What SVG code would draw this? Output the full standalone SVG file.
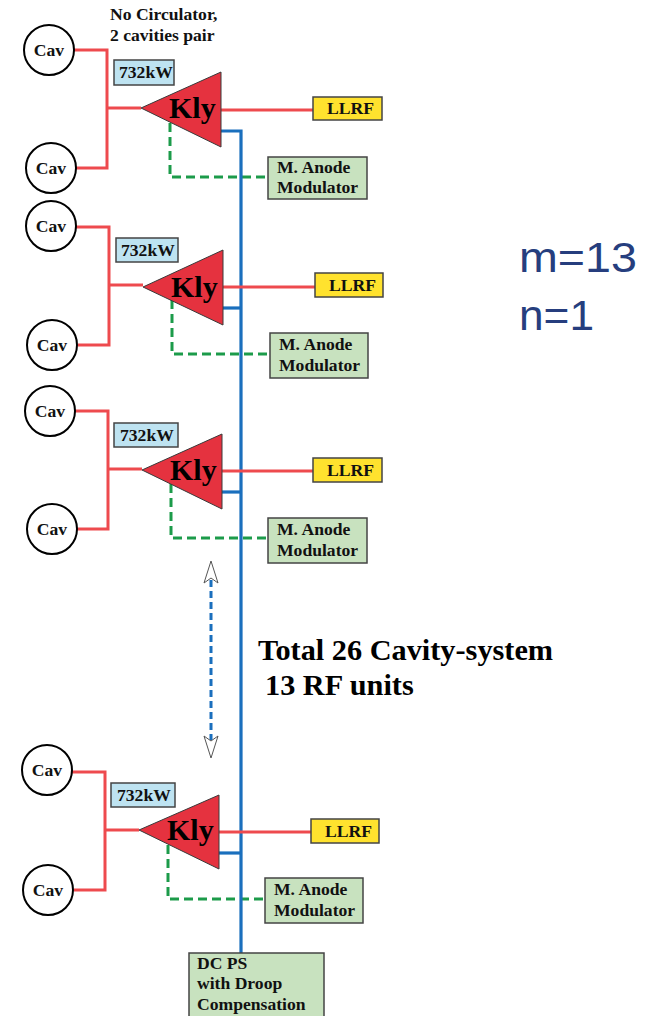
<svg xmlns="http://www.w3.org/2000/svg" width="648" height="1016" viewBox="0 0 648 1016">
<style>
.t{font-family:"Liberation Serif","Times New Roman",serif;font-weight:bold;fill:#111;font-size:17.6px}
.kt{font-family:"Liberation Serif","Times New Roman",serif;font-weight:bold;fill:#000;font-size:30px}
.cc{fill:#fff;stroke:#000;stroke-width:2}
.kly{fill:#E5323F;stroke:#3a3a3a;stroke-width:1}
.pw{fill:#BEE3F1;stroke:#444;stroke-width:1.5}
.ll{fill:#FFE22E;stroke:#444;stroke-width:1.5}
.gb{fill:#C8E2BF;stroke:#444;stroke-width:1.5}
.red{fill:none;stroke:#EE4A4E;stroke-width:3}
.blue{fill:none;stroke:#1A6FBD;stroke-width:3.2}
.grn{fill:none;stroke:#1C9B4A;stroke-width:3;stroke-dasharray:9,5}
.big{font-family:"Liberation Serif","Times New Roman",serif;font-weight:bold;fill:#000;font-size:30.3px}
.mn{font-family:"Liberation Sans",Arial,sans-serif;fill:#263E7E;font-size:42px}
</style>
<defs>
<g id="unitConn">
<path class="grn" d="M170,123 V177 H268"/>
</g>
<g id="unitRed">
<path class="red" d="M74,50 H107 V168 H76"/>
<path class="red" d="M107,108 H141"/>
<path class="red" d="M218,110 H313"/>
</g>
</defs>

<g id="connectors">
<use href="#unitConn"/>
<use href="#unitConn" transform="translate(2,177)"/>
<use href="#unitConn" transform="translate(1,361)"/>
<use href="#unitConn" transform="translate(-2,722)"/>
<path class="blue" d="M221,131 H241 V953"/>
<path class="blue" d="M223,308 H241"/>
<path class="blue" d="M222,492 H241"/>
<path class="blue" d="M219,853 H241"/>
<use href="#unitRed"/>
<use href="#unitRed" transform="translate(2,177)"/>
<use href="#unitRed" transform="translate(1,361)"/>
<use href="#unitRed" transform="translate(-2,722)"/>
<g id="ellipsis-arrow">
<path d="M211,580 V740" fill="none" stroke="#1A6FBD" stroke-width="3" stroke-dasharray="7,4"/>
<polygon points="211,561 204,583 211,578 218,583" fill="#fff" stroke="#555" stroke-width="1"/>
<polygon points="211,758 204,736 211,741 218,736" fill="#fff" stroke="#555" stroke-width="1"/>
</g>
</g>

<g id="title">
<text class="t" x="110" y="20">No Circulator,</text>
<text class="t" x="110" y="41">2 cavities pair</text>
</g>

<!-- Unit 1 -->
<g id="unit1">
<g id="cav1a"><circle class="cc" cx="49" cy="50" r="25"/><text class="t" x="49" y="56" text-anchor="middle">Cav</text></g>
<g id="cav1b"><circle class="cc" cx="51" cy="168" r="25"/><text class="t" x="51" y="174" text-anchor="middle">Cav</text></g>
<g id="pw1"><rect class="pw" x="114" y="60" width="60" height="25"/><text class="t" x="119" y="78">732kW</text></g>
<g id="kly1"><polygon class="kly" points="141,108 221,72 221,147"/><text class="kt" x="169" y="118">Kly</text></g>
<g id="llrf1"><rect class="ll" x="313" y="97" width="69" height="23"/><text class="t" x="327" y="114">LLRF</text></g>
<g id="mam1"><rect class="gb" x="268" y="157" width="99" height="42"/><text class="t" x="277" y="173">M. Anode</text><text class="t" x="277" y="193">Modulator</text></g>
</g>

<!-- Unit 2 -->
<g id="unit2" transform="translate(2,177)">
<g id="cav2a"><circle class="cc" cx="49" cy="49" r="25"/><text class="t" x="49" y="55" text-anchor="middle">Cav</text></g>
<g id="cav2b"><circle class="cc" cx="50" cy="168" r="25"/><text class="t" x="50" y="174" text-anchor="middle">Cav</text></g>
<g id="pw2"><rect class="pw" x="114" y="61" width="62" height="24"/><text class="t" x="119" y="79">732kW</text></g>
<g id="kly2"><polygon class="kly" points="141,110 221,73 221,148"/><text class="kt" x="169" y="120">Kly</text></g>
<g id="llrf2"><rect class="ll" x="313" y="96" width="68" height="24"/><text class="t" x="327" y="114">LLRF</text></g>
<g id="mam2"><rect class="gb" x="268" y="156" width="98" height="45"/><text class="t" x="277" y="173">M. Anode</text><text class="t" x="277" y="194">Modulator</text></g>
</g>

<!-- Unit 3 -->
<g id="unit3" transform="translate(1,361)">
<g id="cav3a"><circle class="cc" cx="49" cy="50" r="25"/><text class="t" x="49" y="56" text-anchor="middle">Cav</text></g>
<g id="cav3b"><circle class="cc" cx="51" cy="168" r="25"/><text class="t" x="51" y="174" text-anchor="middle">Cav</text></g>
<g id="pw3"><rect class="pw" x="113" y="62" width="64" height="24"/><text class="t" x="119" y="80">732kW</text></g>
<g id="kly3"><polygon class="kly" points="141,109 221,73 221,148"/><text class="kt" x="169" y="119">Kly</text></g>
<g id="llrf3"><rect class="ll" x="312" y="97" width="69" height="24"/><text class="t" x="326" y="115">LLRF</text></g>
<g id="mam3"><rect class="gb" x="267" y="157" width="99" height="45"/><text class="t" x="276" y="174">M. Anode</text><text class="t" x="276" y="195">Modulator</text></g>
</g>

<!-- Unit 4 -->
<g id="unit4" transform="translate(-2,722)">
<g id="cav4a"><circle class="cc" cx="49" cy="48" r="25"/><text class="t" x="49" y="54" text-anchor="middle">Cav</text></g>
<g id="cav4b"><circle class="cc" cx="50" cy="168" r="25"/><text class="t" x="50" y="174" text-anchor="middle">Cav</text></g>
<g id="pw4"><rect class="pw" x="113" y="61" width="64" height="24"/><text class="t" x="119" y="79">732kW</text></g>
<g id="kly4"><polygon class="kly" points="141,108 221,73 221,147"/><text class="kt" x="169" y="118">Kly</text></g>
<g id="llrf4"><rect class="ll" x="313" y="97" width="68" height="24"/><text class="t" x="327" y="115">LLRF</text></g>
<g id="mam4"><rect class="gb" x="267" y="156" width="98" height="45"/><text class="t" x="276" y="173">M. Anode</text><text class="t" x="276" y="194">Modulator</text></g>
</g>

<g id="dcps"><rect class="gb" x="189" y="953" width="135" height="70"/><text class="t" x="197" y="969">DC PS</text><text class="t" x="197" y="989">with Droop</text><text class="t" x="197" y="1010">Compensation</text></g>

<g id="summary">
<text class="big" x="258" y="660">Total 26 Cavity-system</text>
<text class="big" x="265" y="695">13 RF units</text>
</g>

<g id="params">
<text class="mn" x="519" y="272" textLength="118" lengthAdjust="spacingAndGlyphs">m=13</text>
<text class="mn" x="519" y="330" textLength="75" lengthAdjust="spacingAndGlyphs">n=1</text>
</g>
</svg>
